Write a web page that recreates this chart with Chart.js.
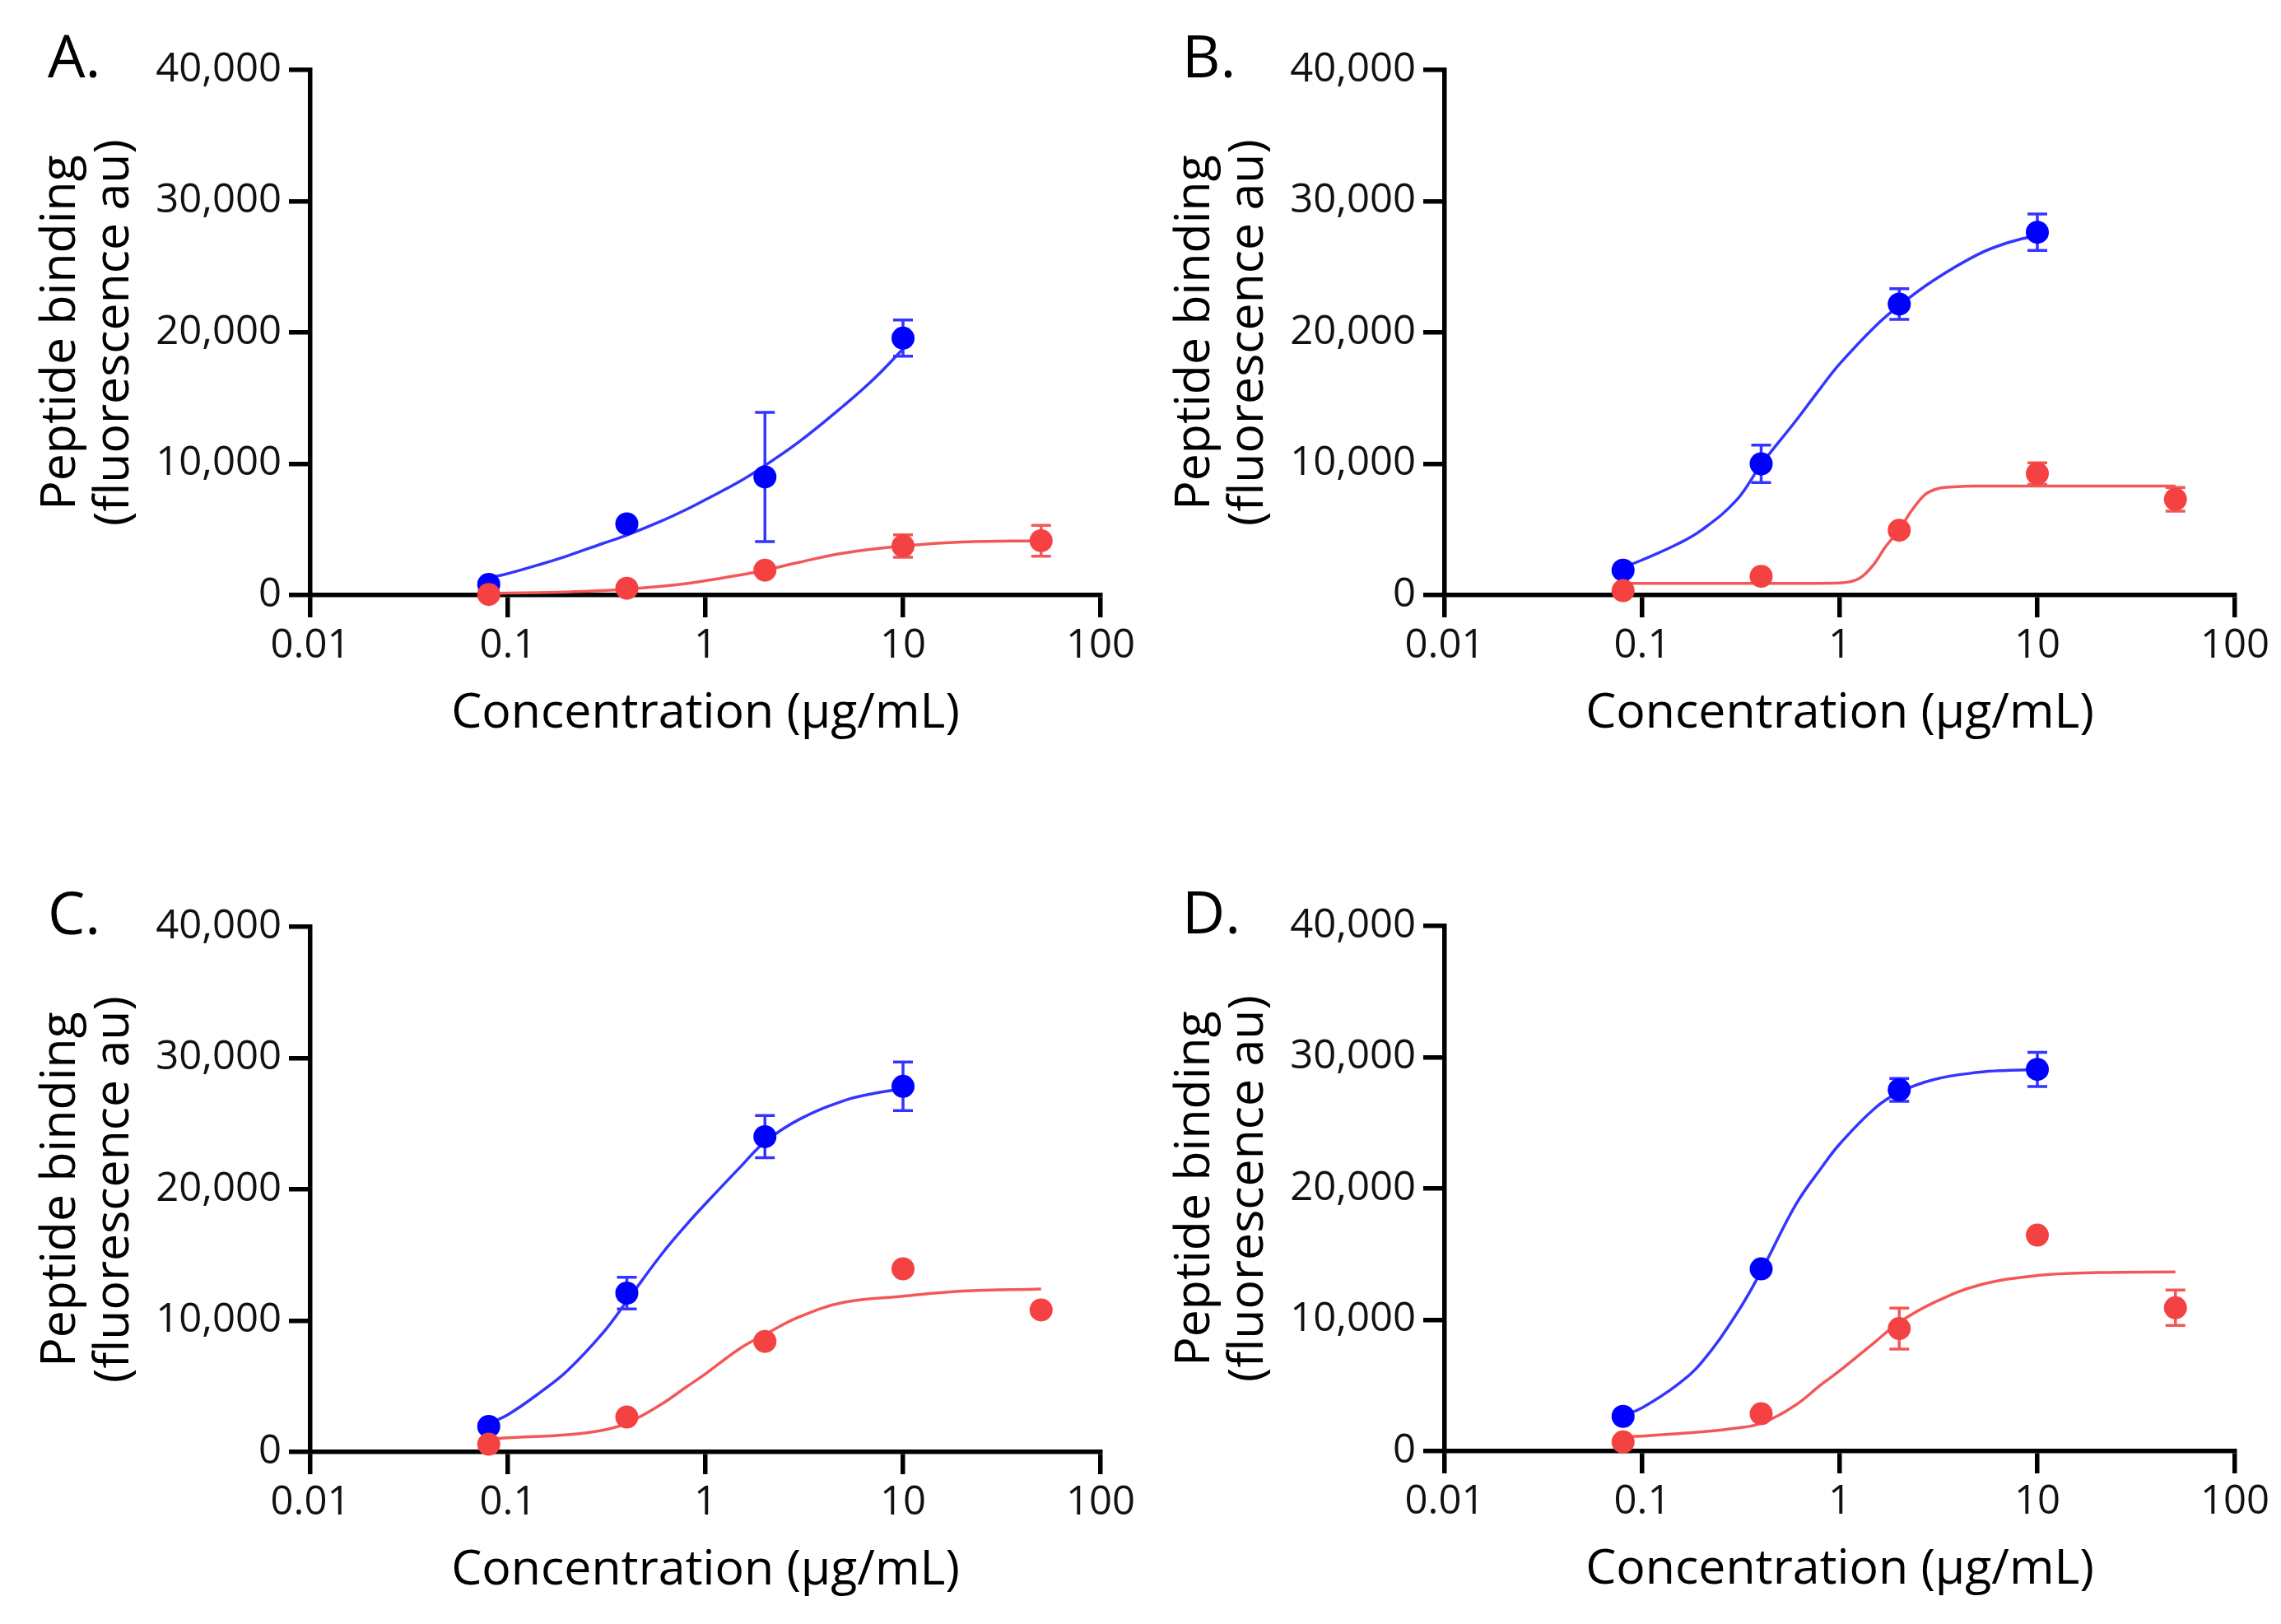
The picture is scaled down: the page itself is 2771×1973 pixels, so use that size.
<!DOCTYPE html>
<html>
<head>
<meta charset="utf-8">
<script src="https://cdn.jsdelivr.net/npm/chart.js@4.4.1/dist/chart.umd.min.js"></script>
<style>
  html, body { margin: 0; padding: 0; background: #fff; }
  body { width: 2771px; height: 1973px; position: relative; overflow: hidden; font-family: "Open Sans", sans-serif; }
  .panel { position: absolute; width: 1393px; height: 932px; }
  .panel canvas { position: absolute; left: 0; top: 0; }
  .tag { position: absolute; left: 58px; top: 30px; font-size: 72px; line-height: 1; color: #000; }
</style>
</head>
<body>
<div class="panel" style="left:0;top:0"><canvas id="chartA" width="1393" height="932"></canvas><div class="tag">A.</div></div>
<div class="panel" style="left:1378px;top:0"><canvas id="chartB" width="1393" height="932"></canvas><div class="tag">B.</div></div>
<div class="panel" style="left:0;top:1041px"><canvas id="chartC" width="1393" height="932"></canvas><div class="tag">C.</div></div>
<div class="panel" style="left:1378px;top:1040px"><canvas id="chartD" width="1393" height="932"></canvas><div class="tag">D.</div></div>
<script>
// axis ticks
const xTickValues = [0.01, 0.1, 1, 10, 100];
const xTickLabels = ['0.01', '0.1', '1', '10', '100'];
const yTickValues = [0, 10000, 20000, 30000, 40000];

// concentrations tested (µg/mL)
const blueConc = [0.08, 0.4, 2, 10];
const redConc = [0.08, 0.4, 2, 10, 50];

// measured means and error bar half-heights
const blueA = [820, 5430, 9000, 19570];
const blueErrA = [0, 0, 4920, 1380];
const redA = [50, 520, 1900, 3740, 4140];
const redErrA = [0, 0, 0, 850, 1170];

const blueB = [1900, 10000, 22170, 27640];
const blueErrB = [0, 1430, 1170, 1390];
const redB = [340, 1430, 4940, 9260, 7300];
const redErrB = [0, 0, 0, 820, 900];

const blueC = [1950, 12100, 24020, 27850];
const blueErrC = [0, 1210, 1600, 1850];
const redC = [590, 2660, 8420, 13950, 10820];
const redErrC = [0, 0, 0, 0, 0];

const blueD = [2650, 13880, 27520, 29080];
const blueErrD = [0, 0, 870, 1300];
const redD = [700, 2850, 9340, 16450, 10920];
const redErrD = [0, 0, 1560, 0, 1350];

// fitted curves
const blueFitX = [0.08, 0.1, 0.15, 0.2, 0.3, 0.4, 0.6, 0.8, 1, 1.5, 2, 3, 5, 7, 10];
const redFitX = [0.08, 0.1, 0.2, 0.3, 0.4, 0.6, 0.8, 1, 1.5, 2, 3, 5, 10, 20, 50];

const blueFitA = [1320, 1640, 2400, 2990, 3920, 4570, 5650, 6520, 7270, 8680, 9870, 11710, 14420, 16360, 18740];
const redFitA = [130, 150, 240, 340, 450, 670, 880, 1100, 1540, 1900, 2510, 3200, 3740, 4050, 4140];

const blueFitB = [2100, 2680, 3870, 4960, 7230, 9940, 13290, 15780, 17620, 20430, 22060, 24000, 25950, 26820, 27420];
const redFitXB = [0.08, 0.4, 1, 1.26, 1.49, 1.7, 2, 2.29, 2.7, 3.19, 3.77, 5, 10, 50];
const redFitB = [890, 890, 930, 1280, 2360, 3660, 4960, 6360, 7660, 8140, 8250, 8310, 8310, 8310];

const blueFitC = [2190, 2840, 4680, 6190, 9000, 11490, 15060, 17300, 18900, 21700, 23610, 25350, 26750, 27290, 27660];
const redFitC = [1000, 1080, 1320, 1650, 2190, 3650, 4950, 5950, 7900, 8950, 10300, 11390, 11860, 12250, 12420];

const blueFitD = [2700, 3310, 5040, 6770, 10450, 13700, 18800, 21500, 23400, 26100, 27340, 28310, 28850, 29000, 29070];
const redFitD = [1100, 1150, 1470, 1750, 2120, 3530, 5040, 6130, 8290, 9810, 11320, 12620, 13380, 13600, 13650];

const BLUE = '#0000ff', BLUE_LINE = '#3535ff';
const RED = '#f44242', RED_LINE = '#f35858';

function toPoints(xs, ys) {
    return ys.map((y, i) => ({ x: xs[i], y: y }));
}

// draws SD bars under the markers
const errorBars = {
    id: 'errorBars',
    beforeDatasetsDraw(chart) {
        const ctx = chart.ctx;
        const xs = chart.scales.x, ys = chart.scales.y;
        chart.data.datasets.forEach(ds => {
            if (!ds.errors) return;
            ctx.save();
            ctx.strokeStyle = ds.errorColor;
            ctx.lineWidth = 3.5;
            ds.data.forEach((p, i) => {
                const e = ds.errors[i];
                if (!e) return;
                const px = xs.getPixelForValue(p.x);
                const top = ys.getPixelForValue(p.y + e);
                const bot = ys.getPixelForValue(p.y - e);
                ctx.beginPath();
                ctx.moveTo(px, top); ctx.lineTo(px, bot);
                ctx.moveTo(px - 12, top); ctx.lineTo(px + 12, top);
                ctx.moveTo(px - 12, bot); ctx.lineTo(px + 12, bot);
                ctx.stroke();
            });
            ctx.restore();
        });
    }
};

function curve(xs, ys, color, sharp) {
    const ds = { data: toPoints(xs, ys), showLine: true, pointRadius: 0,
                 borderColor: color, borderWidth: 3.5, clip: false };
    if (sharp) ds.cubicInterpolationMode = 'monotone';
    else ds.tension = 0.4;
    return ds;
}

function makePanel(id, blue, blueErr, red, redErr, blueFit, redFitXs, redFit, redSharp) {
    const ctx = document.getElementById(id).getContext('2d');

    new Chart(ctx, {
        type: 'scatter',
        data: {
            datasets: [
                { data: toPoints(redConc, red), errors: redErr, errorColor: RED_LINE,
                  pointRadius: 14, pointBackgroundColor: RED, pointBorderWidth: 0, clip: false },
                { data: toPoints(blueConc, blue), errors: blueErr, errorColor: BLUE_LINE,
                  pointRadius: 14, pointBackgroundColor: BLUE, pointBorderWidth: 0, clip: false },
                curve(redFitXs, redFit, RED_LINE, redSharp),
                curve(blueFitX, blueFit, BLUE_LINE, false)
            ]
        },
        options: {
            responsive: false,
            animation: false,
            devicePixelRatio: 1,
            layout: { padding: { top: 85, right: 56, left: 0, bottom: 0 } },
            plugins: { legend: { display: false }, tooltip: { enabled: false } },
            scales: {
                x: {
                    type: 'logarithmic',
                    position: 'bottom',
                    min: 0.01,
                    max: 100,
                    afterBuildTicks: s => { s.ticks = xTickValues.map(v => ({ value: v })); },
                    afterFit: s => { s.height = 209; },
                    grid: { display: true, drawOnChartArea: false, drawTicks: true,
                            tickLength: 27, lineWidth: 5.5, tickWidth: 5.5, tickColor: '#000', color: '#000' },
                    border: { display: true, color: '#000', width: 5.5 },
                    ticks: {
                        color: '#111', padding: 6, maxRotation: 0, autoSkip: false,
                        font: { family: 'Open Sans', size: 49, lineHeight: 1.2 },
                        callback: (v, i) => xTickLabels[i]
                    },
                    title: {
                        display: true, text: 'Concentration (µg/mL)', color: '#000',
                        font: { family: 'Open Sans', size: 59, lineHeight: 1 },
                        padding: { top: 0, bottom: 35 }
                    }
                },
                y: {
                    min: 0,
                    max: 40000,
                    afterBuildTicks: s => { s.ticks = yTickValues.map(v => ({ value: v })); },
                    afterFit: s => { s.width = 377; },
                    grid: { display: true, drawOnChartArea: false, drawTicks: true,
                            tickLength: 26, lineWidth: 5.5, tickWidth: 5.5, tickColor: '#000', color: '#000' },
                    border: { display: true, color: '#000', width: 5.5 },
                    ticks: {
                        color: '#111', padding: 9,
                        font: { family: 'Open Sans', size: 49, lineHeight: 1.2 },
                        callback: v => v.toLocaleString('en-US')
                    },
                    title: {
                        display: true, text: ['Peptide binding', '(fluorescence au)'], color: '#000',
                        font: { family: 'Open Sans', size: 59, lineHeight: 1.1 },
                        padding: { top: 42, bottom: 0 }
                    }
                }
            }
        },
        plugins: [errorBars]
    });
}

makePanel('chartA', blueA, blueErrA, redA, redErrA, blueFitA, redFitX, redFitA, false);
makePanel('chartB', blueB, blueErrB, redB, redErrB, blueFitB, redFitXB, redFitB, true);
makePanel('chartC', blueC, blueErrC, redC, redErrC, blueFitC, redFitX, redFitC, false);
makePanel('chartD', blueD, blueErrD, redD, redErrD, blueFitD, redFitX, redFitD, false);
</script>
</body>
</html>
